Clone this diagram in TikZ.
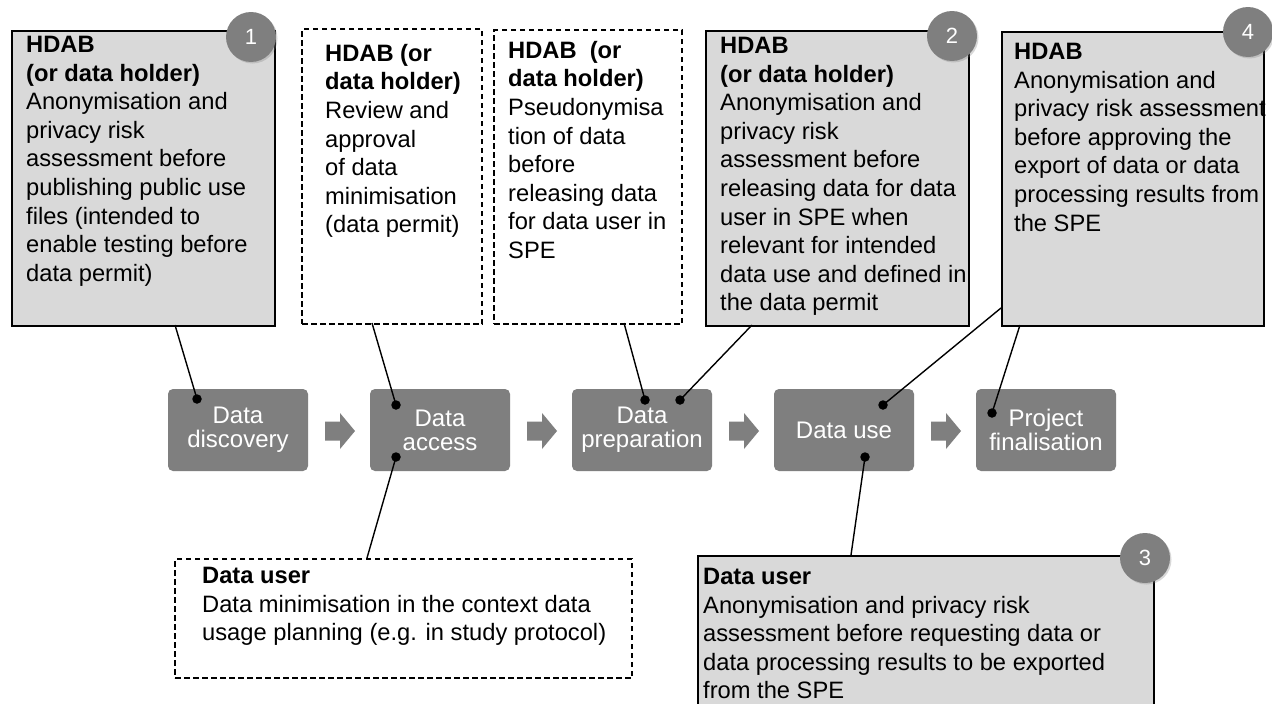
\documentclass[tikz,border=0pt]{standalone}
\usepackage{fontspec}
\setmainfont{Liberation Sans}
\usetikzlibrary{shadows}
\definecolor{boxgray}{HTML}{D9D9D9}
\definecolor{procgray}{HTML}{7F7F7F}
\definecolor{numgray}{HTML}{7F7F7F}
\tikzset{
  txt/.style={anchor=north west, inner sep=0pt, align=left, text=black,
    font=\fontsize{23.7}{28.6}\selectfont},
  gbox/.style={draw=black, line width=2pt, fill=boxgray, inner sep=0pt, anchor=north west},
  dbox/.style={draw=black, line width=2pt, dash pattern=on 5.5pt off 3.5pt, fill=white,
    inner sep=0pt, anchor=north west},
  proc/.style={fill=procgray, rounded corners=5pt, minimum width=140pt, minimum height=82pt,
    inner sep=0pt, text=white, align=center, font=\fontsize{24}{24}\selectfont},
  num/.style={circle, fill=numgray, minimum size=50pt, inner sep=0pt, text=white,
    font=\fontsize{22}{22}\selectfont,
    drop shadow={shadow xshift=1.5pt, shadow yshift=-1.5pt, opacity=0.3}},
  dot/.style={circle, fill=black, minimum size=9.5pt, inner sep=0pt},
  conn/.style={draw=black, line width=1.4pt},
  blockarrow/.pic={\fill[procgray] (-15,-9.5) -- (0,-9.5) -- (0,-18) -- (15,0) -- (0,18)
    -- (0,9.5) -- (-15,9.5) -- cycle;}
}
\begin{document}
\begin{tikzpicture}[x=1pt,y=-1pt]
\clip (0,0) rectangle (1272,704);
\fill[white] (0,0) rectangle (1272,704);

% upper boxes
\node[gbox, minimum width=263pt, minimum height=295pt] (b1) at (11,30) {};
\node[dbox, minimum width=180pt, minimum height=295pt] (bA) at (301,28) {};
\node[dbox, minimum width=188pt, minimum height=294pt] (bB) at (493,29) {};
\node[gbox, minimum width=263pt, minimum height=295pt] (b2) at (705,30) {};
\node[gbox, minimum width=262pt, minimum height=294pt] (b4) at (1001,31) {};
% lower boxes
\node[dbox, minimum width=457pt, minimum height=119pt] (bU) at (174,558) {};
\node[gbox, minimum width=456pt, minimum height=170pt] (b3) at (697,555) {};

% texts
\node[txt] (t1) at (26,36) {\textbf{HDAB}\\\textbf{(or data holder)}\\Anonymisation and\\privacy risk\\assessment before\\publishing public use\\files (intended to\\enable testing before\\data permit)};
\node[txt] (tA) at (325,44) {\textbf{HDAB (or}\\\textbf{data holder)}\\Review and\\approval\\of data\\minimisation\\(data permit)};
\node[txt] (tB) at (508,41) {\textbf{HDAB\ \ (or}\\\textbf{data holder)}\\Pseudonymisa\\tion of data\\before\\releasing data\\for data user in\\SPE};
\node[txt] (t2) at (720,37) {\textbf{HDAB}\\\textbf{(or data holder)}\\Anonymisation and\\privacy risk\\assessment before\\releasing data for data\\user in SPE when\\relevant for intended\\data use and defined in\\the data permit};
\node[txt] (t4) at (1014,43) {\textbf{HDAB}\\Anonymisation and\\privacy risk assessment\\before approving the\\export of data or data\\processing results from\\the SPE};
\node[txt] (tU) at (202,567) {\textbf{Data user}\\Data minimisation in the context data\\usage planning (e.g. in study protocol)};
\node[txt] (t3) at (703,568) {\textbf{Data user}\\Anonymisation and privacy risk\\assessment before requesting data or\\data processing results to be exported\\from the SPE};

% number circles
\node[num] (n1) at (251,37) {1};
\node[num] (n2) at (952,36) {2};
\node[num] (n3) at (1145,558) {3};
\node[num] (n4) at (1248,32) {4};

% process steps
\node[proc] (p1) at (238,430) {Data\\discovery};
\node[proc] (p2) at (440,430) {Data\\access};
\node[proc] (p3) at (642,430) {Data\\preparation};
\node[proc] (p4) at (844,430) {Data use};
\node[proc] (p5) at (1046,430) {Project\\finalisation};
\pic at (340,431) {blockarrow};
\pic at (542,431) {blockarrow};
\pic at (744,431) {blockarrow};
\pic at (946,431) {blockarrow};

% connector end points on boxes
\coordinate (e1) at (175,325);
\coordinate (eA) at (372,323);
\coordinate (eB) at (624,323);
\coordinate (e2) at (752,325);
\coordinate (e4a) at (1001,308);
\coordinate (e4b) at (1020,325);
\coordinate (eU) at (367,558);
\coordinate (e3) at (851,555);

% dots
\node[dot] (d1) at (197,399) {};
\node[dot] (dA1) at (396,405) {};
\node[dot] (dA2) at (396,457) {};
\node[dot] (dP1) at (645,400) {};
\node[dot] (dP2) at (680,400) {};
\node[dot] (dU1) at (883,405) {};
\node[dot] (dU2) at (865,457) {};
\node[dot] (dF) at (992,413) {};

\draw[conn] (e1) -- (d1.center);
\draw[conn] (eA) -- (dA1.center);
\draw[conn] (eB) -- (dP1.center);
\draw[conn] (e2) -- (dP2.center);
\draw[conn] (e4a) -- (dU1.center);
\draw[conn] (e4b) -- (dF.center);
\draw[conn] (dA2.center) -- (eU);
\draw[conn] (dU2.center) -- (e3);
\end{tikzpicture}
\end{document}
